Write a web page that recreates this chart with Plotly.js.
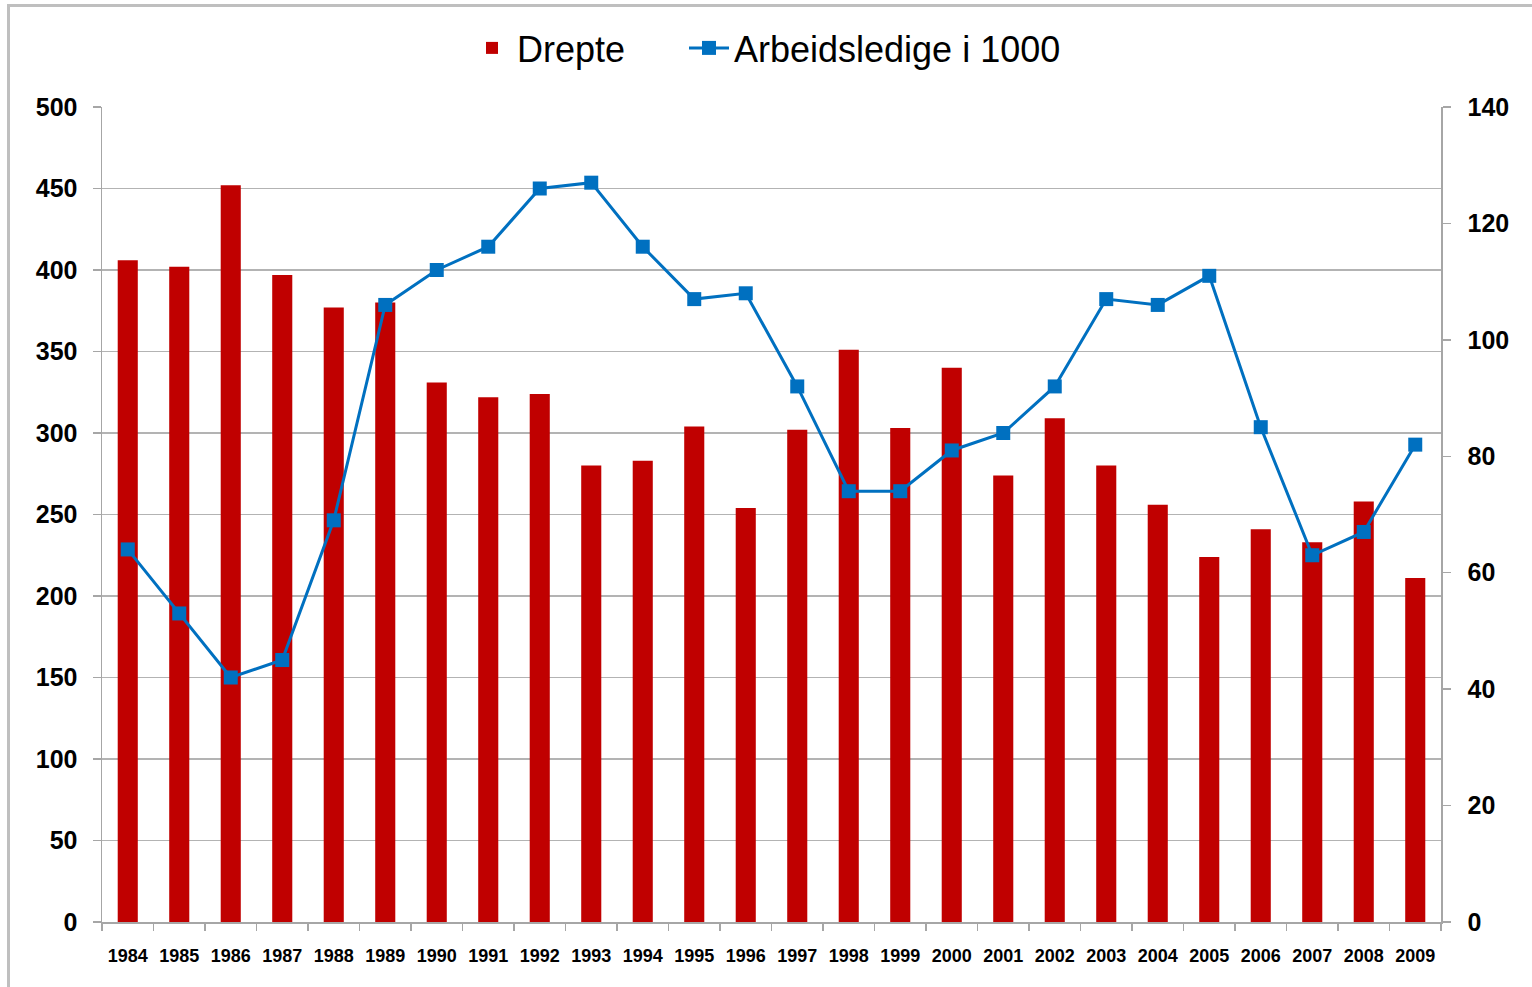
<!DOCTYPE html>
<html>
<head>
<meta charset="utf-8">
<script src="https://cdn.plot.ly/plotly-3.0.1.min.js"></script>
<style>
html,body{margin:0;padding:0;background:#fff;}
#chart{width:1532px;height:987px;}
</style>
</head>
<body>
<div id="chart"></div>
<script>
const years = ["1984","1985","1986","1987","1988","1989","1990","1991","1992","1993","1994","1995","1996","1997","1998","1999","2000","2001","2002","2003","2004","2005","2006","2007","2008","2009"];
const drepte = [406,402,452,397,377,380,331,322,324,280,283,304,254,302,351,303,340,274,309,280,256,224,241,233,258,211];
const arbeidsledige = [64,53,42,45,69,106,112,116,126,127,116,107,108,92,74,74,81,84,92,107,106,111,85,63,67,82];
const seriesNames = ["Drepte","Arbeidsledige i 1000"];

const FONT = "Liberation Sans, Arial, sans-serif";
const axisGray = "#a6a6a6";

const traces = [
  {
    type: "bar",
    name: seriesNames[0],
    x: years,
    y: drepte,
    marker: {color: "#C00000", line: {width: 0}},
    yaxis: "y",
    legend: "legend"
  },
  {
    type: "scatter",
    mode: "lines+markers",
    name: seriesNames[1],
    x: years,
    y: arbeidsledige,
    line: {color: "#0070C0", width: 3},
    marker: {symbol: "square", size: 14, color: "#0070C0"},
    yaxis: "y2",
    legend: "legend2"
  }
];

const plotW = 1339, plotH = 815;
const legendBase = {
  orientation: "h",
  xanchor: "left",
  y: 1 + 59/plotH, yanchor: "middle",
  font: {family: FONT, size: 36, color: "#000"},
  itemwidth: 40,
  bgcolor: "rgba(0,0,0,0)"
};
const layout = {
  width: 1532,
  height: 987,
  margin: {l: 102, r: 91, t: 107, b: 65, pad: 0},
  paper_bgcolor: "#fff",
  plot_bgcolor: "#fff",
  font: {family: FONT, color: "#000"},
  bargap: 0.61,
  showlegend: true,
  legend: Object.assign({}, legendBase, {x: (467-102)/plotW}),
  legend2: Object.assign({}, legendBase, {x: (684-102)/plotW}),
  xaxis: {
    type: "category",
    range: [-0.5, 25.5],
    tickson: "boundaries",
    ticks: "outside",
    ticklen: 7,
    tickwidth: 1.5,
    tickcolor: axisGray,
    showline: true,
    linecolor: axisGray,
    linewidth: 1.5,
    showgrid: false,
    tickangle: 0,
    ticklabelstandoff: 17,
    tickfont: {family: FONT, size: 18, weight: "bold", color: "#000"},
    fixedrange: true
  },
  yaxis: {
    range: [0, 500],
    dtick: 50,
    tick0: 0,
    showgrid: true,
    gridcolor: "#b3b3b3",
    gridwidth: 1.5,
    zeroline: false,
    showline: true,
    linecolor: axisGray,
    linewidth: 1.5,
    ticks: "outside",
    ticklen: 8,
    tickwidth: 1.5,
    tickcolor: axisGray,
    ticklabelstandoff: 10,
    tickfont: {family: FONT, size: 25, weight: "bold", color: "#000"}
  },
  yaxis2: {
    range: [0, 140],
    dtick: 20,
    tick0: 0,
    overlaying: "y",
    side: "right",
    showgrid: false,
    zeroline: false,
    showline: true,
    linecolor: axisGray,
    linewidth: 1.5,
    ticks: "outside",
    ticklen: 8,
    tickwidth: 1.5,
    tickcolor: axisGray,
    ticklabelstandoff: 12,
    tickfont: {family: FONT, size: 25, weight: "bold", color: "#000"}
  },
  shapes: [
    {type: "line", xref: "paper", yref: "paper",
     x0: (8.5-102)/plotW, x1: (8.5-102)/plotW, y0: -0.2, y1: (922-5.5)/plotH,
     line: {color: "#bfbfbf", width: 3}},
    {type: "line", xref: "paper", yref: "paper",
     x0: (7-102)/plotW, x1: 1.2, y0: (922-5.5)/plotH, y1: (922-5.5)/plotH,
     line: {color: "#bfbfbf", width: 3}}
  ]
};

Plotly.newPlot("chart", traces, layout, {displayModeBar: false, staticPlot: true});
</script>
</body>
</html>
